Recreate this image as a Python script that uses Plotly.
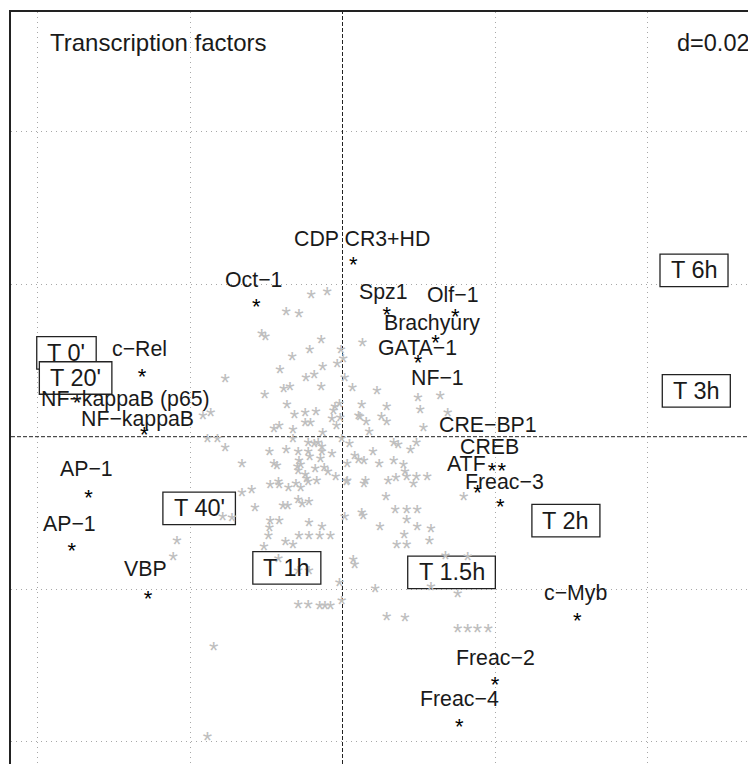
import plotly.graph_objects as go

# ---------------- data ----------------
# background rows (grey stars)
bg_x = [-0.0041, -0.0020, -0.0074, -0.0057, -0.0106, -0.0101, -0.0028, -0.0043, -0.0002, -0.0066,
        0.0001, -0.0007, -0.0026, -0.0082, -0.0154, -0.0048, -0.0037, 0.0003, -0.0077, -0.0069,
        -0.0028, -0.0102, -0.0073, -0.0004, -0.0010, -0.0183, -0.0173, -0.0063, -0.0049, -0.0035,
        -0.0012, -0.0014, -0.0008, -0.0049, -0.0042, -0.0083, -0.0090, -0.0065, -0.0026, -0.0003,
        0.0026, 0.0013, 0.0045, 0.0099, 0.0128, 0.0025, 0.0058, 0.0102, 0.0138, 0.0021,
        0.0023, 0.0051, 0.0058, 0.0031, 0.0106, 0.0035, -0.0001, -0.0177, -0.0164, -0.0154,
        -0.0065, -0.0045, -0.0037, -0.0032, -0.0027, -0.0096, -0.0074, -0.0058, -0.0045, -0.0027,
        -0.0014, -0.0057, -0.0043, -0.0029, -0.0132, -0.0090, -0.0086, -0.0059, -0.0055, -0.0036,
        -0.0024, -0.0019, -0.0009, -0.0049, -0.0047, -0.0034, -0.0058, 0.0005, -0.0084, -0.0083,
        -0.0095, -0.0071, -0.0061, -0.0055, -0.0045, -0.0119, -0.0132, -0.0115, -0.0078, -0.0072,
        -0.0058, -0.0053, -0.0044, -0.0157, -0.0145, -0.0095, -0.0083, -0.0044, -0.0027, -0.0096,
        0.0009, 0.0067, 0.0073, 0.0097, 0.0089, 0.0040, 0.0016, 0.0021, 0.0028, 0.0006,
        0.0048, 0.0067, 0.0080, 0.0082, 0.0070, 0.0084, 0.0097, 0.0111, 0.0006, 0.0030,
        0.0028, 0.0060, 0.0093, 0.0159, 0.0057, 0.0025, 0.0027, 0.0069, 0.0084, 0.0098,
        0.0084, 0.0003, 0.0049, 0.0098, 0.0116, -0.0097, -0.0057, -0.0044, -0.0030, -0.0016,
        -0.0075, -0.0065, -0.0103, -0.0084, -0.0058, -0.0044, -0.0004, -0.0058, -0.0045, -0.0030,
        -0.0023, -0.0016, -0.0001, -0.0169, -0.0217, -0.0222, -0.0177, 0.0014, 0.0016, 0.0043,
        0.0081, 0.0071, 0.0084, 0.0114, 0.0135, 0.0164, 0.0116, 0.0151, 0.0058, 0.0082,
        0.0151, 0.0164, 0.0177, 0.0191]
bg_y = [0.0186, 0.0190, 0.0164, 0.0161, 0.0136, 0.0131, 0.0128, 0.0115, 0.0115, 0.0105,
        0.0102, 0.0096, 0.0092, 0.0088, 0.0076, 0.0078, 0.0081, 0.0078, 0.0063, 0.0066,
        0.0066, 0.0055, 0.0042, 0.0044, 0.0039, 0.0028, 0.0032, 0.0029, 0.0032, 0.0033,
        0.0034, 0.0024, 0.0015, 0.0018, 0.0018, 0.0015, 0.0011, 0.0010, 0.0006, 0.0025,
        0.0124, 0.0065, 0.0061, 0.0052, 0.0054, 0.0042, 0.0040, 0.0036, 0.0032, 0.0028,
        0.0026, 0.0027, 0.0020, 0.0020, 0.0012, 0.0007, -0.0002, -0.0003, -0.0003, -0.0014,
        -0.0002, -0.0007, -0.0009, -0.0007, -0.0013, -0.0020, -0.0017, -0.0020, -0.0020, -0.0020,
        -0.0022, -0.0031, -0.0026, -0.0028, -0.0035, -0.0035, -0.0038, -0.0039, -0.0036, -0.0042,
        -0.0041, -0.0046, -0.0052, -0.0050, -0.0055, -0.0057, -0.0044, -0.0059, -0.0059, -0.0063,
        -0.0063, -0.0066, -0.0061, -0.0066, -0.0059, -0.0069, -0.0073, -0.0093, -0.0090, -0.0090,
        -0.0083, -0.0088, -0.0085, -0.0105, -0.0106, -0.0110, -0.0110, -0.0113, -0.0118, -0.0119,
        -0.0009, -0.0007, -0.0010, -0.0008, -0.0017, -0.0020, -0.0025, -0.0030, -0.0031, -0.0035,
        -0.0035, -0.0031, -0.0036, -0.0046, -0.0053, -0.0052, -0.0052, -0.0052, -0.0057, -0.0057,
        -0.0062, -0.0057, -0.0062, -0.0078, -0.0079, -0.0100, -0.0103, -0.0095, -0.0095, -0.0095,
        -0.0108, -0.0105, -0.0118, -0.0118, -0.0121, -0.0130, -0.0130, -0.0130, -0.0130, -0.0130,
        -0.0138, -0.0141, -0.0144, -0.0160, -0.0175, -0.0176, -0.0191, -0.0220, -0.0220, -0.0221,
        -0.0221, -0.0221, -0.0215, -0.0275, -0.0136, -0.0157, -0.0393, -0.0161, -0.0168, -0.0199,
        -0.0128, -0.0142, -0.0142, -0.0136, -0.0156, -0.0157, -0.0196, -0.0206, -0.0236, -0.0237,
        -0.0251, -0.0251, -0.0251, -0.0251]

# transcription-factor points (black stars)
tf_x = [0.0014, -0.0113, -0.0263, -0.0348, -0.0260, -0.0333, -0.0355, -0.0255, 0.0058, 0.0148,
        0.0122, 0.0099, 0.0196, 0.0209, 0.0177, 0.0207, 0.0308, 0.0200, 0.0153]
tf_y = [0.0229, 0.0174, 0.0082, 0.0048, 0.0006, -0.0076, -0.0146, -0.0208, 0.0164, 0.0161,
        0.0127, 0.0101, -0.0041, -0.0041, -0.0069, -0.0088, -0.0237, -0.0321, -0.0376]

# transcription-factor labels
tf_labels = ["CDP CR3+HD", "Oct−1", "c−Rel", "NF−kappaB (p65)", "NF−kappaB", "AP−1", "AP−1",
             "VBP", "Spz1", "Olf−1", "Brachyury", "GATA−1", "NF−1", "CRE−BP1", "CREB", "ATF",
             "Freac−3", "c−Myb", "Freac−2", "Freac−4"]
tf_label_x = [0.0025, -0.0117, -0.0266, -0.0284, -0.0269, -0.0336, -0.0358, -0.0258, 0.0054, 0.0145,
              0.0117, 0.0098, 0.0125, 0.0191, 0.0193, 0.0162, 0.0213, 0.0305, 0.0200, 0.0154]
tf_label_y = [0.0259, 0.0206, 0.0115, 0.0049, 0.0023, -0.0043, -0.0114, -0.0174, 0.0190, 0.0186,
              0.0149, 0.0116, 0.0077, 0.0015, -0.0013, -0.0036, -0.0060, -0.0205, -0.0290, -0.0344]

# time points (boxed labels)
time_labels = ["T 0'", "T 20'", "T 40'", "T 1h", "T 1.5h", "T 2h", "T 3h", "T 6h"]
time_x = [-0.0362, -0.0350, -0.0188, -0.0073, 0.0143, 0.0293, 0.0464, 0.0461]
time_y = [0.0110, 0.0077, -0.0094, -0.0172, -0.0178, -0.0110, 0.0060, 0.0218]

title_text = "Transcription factors"
grid_text = "d=0.02"
grid_step = 0.02

# ---------------- styling ----------------
FONT = "Liberation Sans, Arial, Helvetica, sans-serif"
LABEL_SIZE = 21.3
BOX_SIZE = 23.5
TITLE_SIZE = 24
TXT = "#1a1a1a"
GREY = "#BEBEBE"

X_RANGE = [-0.043475, 0.054230]
Y_RANGE = [-0.042925, 0.055698]
FIG_W, FIG_H = 748, 756          # page body adds an 8px margin
MARGIN = dict(l=3, t=4, r=0, b=0)
PLOT_H = FIG_H - MARGIN["t"] - MARGIN["b"]
UNIT_PER_PX = (Y_RANGE[1] - Y_RANGE[0]) / PLOT_H
# the '*' glyph sits below its anchor when drawn 'bottom center'; lift it back (px)
GREY_DROP, BLACK_DROP = 5.5, 6.3

ADV = {"T": 0.611, " ": 0.278, "'": 0.191, ".": 0.278, "h": 0.556}


def text_width(s, size):
    return sum(ADV.get(c, 0.556) for c in s) * size


def lifted_range(drop_px):
    k = drop_px * UNIT_PER_PX
    return [Y_RANGE[0] - k, Y_RANGE[1] - k]


fig = go.Figure()
fig.add_trace(go.Scatter(
    x=bg_x, y=bg_y, yaxis="y2", mode="text", text=["*"] * len(bg_x), textposition="bottom center",
    textfont=dict(family=FONT, size=24, color=GREY), hoverinfo="skip", showlegend=False))
fig.add_trace(go.Scatter(
    x=tf_x, y=tf_y, yaxis="y3", mode="text", text=["*"] * len(tf_x), textposition="bottom center",
    textfont=dict(family=FONT, size=22, color="black"), hoverinfo="skip", showlegend=False))

shapes = [
    dict(type="line", xref="x", yref="paper", x0=0, x1=0, y0=0, y1=1, layer="between",
         line=dict(color="#222222", width=1, dash="4px,2px")),
    dict(type="line", xref="paper", yref="y", x0=0, x1=1, y0=0, y1=0, layer="between",
         line=dict(color="#222222", width=1, dash="4px,2px")),
]
annotations = []
for lab, x, y in zip(time_labels, time_x, time_y):
    w = text_width(lab, BOX_SIZE) + 21
    h = 32.5
    shapes.append(dict(type="rect", xref="x", yref="y", xsizemode="pixel", ysizemode="pixel",
                       xanchor=x, yanchor=y, x0=-w / 2, x1=w / 2, y0=-h / 2, y1=h / 2,
                       layer="between", fillcolor="white",
                       line=dict(color="#222222", width=1.3)))
    annotations.append(dict(x=x, y=y, xref="x", yref="y", text=lab, showarrow=False,
                            xanchor="center", yanchor="middle",
                            font=dict(family=FONT, size=BOX_SIZE, color=TXT)))

for lab, x, y in zip(tf_labels, tf_label_x, tf_label_y):
    annotations.append(dict(x=x, y=y, xref="x", yref="y", text=lab, showarrow=False,
                            xanchor="center", yanchor="middle",
                            font=dict(family=FONT, size=LABEL_SIZE, color=TXT)))

annotations.append(dict(x=0.0495, y=0.9593, xref="paper", yref="paper", text=title_text,
                        showarrow=False, xanchor="left", yanchor="middle",
                        font=dict(family=FONT, size=TITLE_SIZE, color=TXT)))
annotations.append(dict(x=0.9950, y=0.9593, xref="paper", yref="paper", text=grid_text,
                        showarrow=False, xanchor="right", yanchor="middle",
                        font=dict(family=FONT, size=BOX_SIZE, color=TXT)))

axis_common = dict(dtick=grid_step, tick0=0, showgrid=True, gridcolor="#A8A8A8",
                   griddash="1px,4px", gridwidth=1, zeroline=True,
                   zerolinecolor="rgba(0,0,0,0)", zerolinewidth=1,
                   showticklabels=False, ticks="", showline=True, linecolor="#222222",
                   linewidth=1.5, fixedrange=True)

fig.update_layout(
    width=FIG_W, height=FIG_H, margin=MARGIN,
    paper_bgcolor="white", plot_bgcolor="white", showlegend=False,
    xaxis=dict(range=X_RANGE, side="top", **axis_common),
    yaxis=dict(range=Y_RANGE, side="left", **axis_common),
    yaxis2=dict(overlaying="y", range=lifted_range(GREY_DROP), visible=False, fixedrange=True),
    yaxis3=dict(overlaying="y", range=lifted_range(BLACK_DROP), visible=False, fixedrange=True),
    shapes=shapes, annotations=annotations,
)

fig.write_html("out.html")
